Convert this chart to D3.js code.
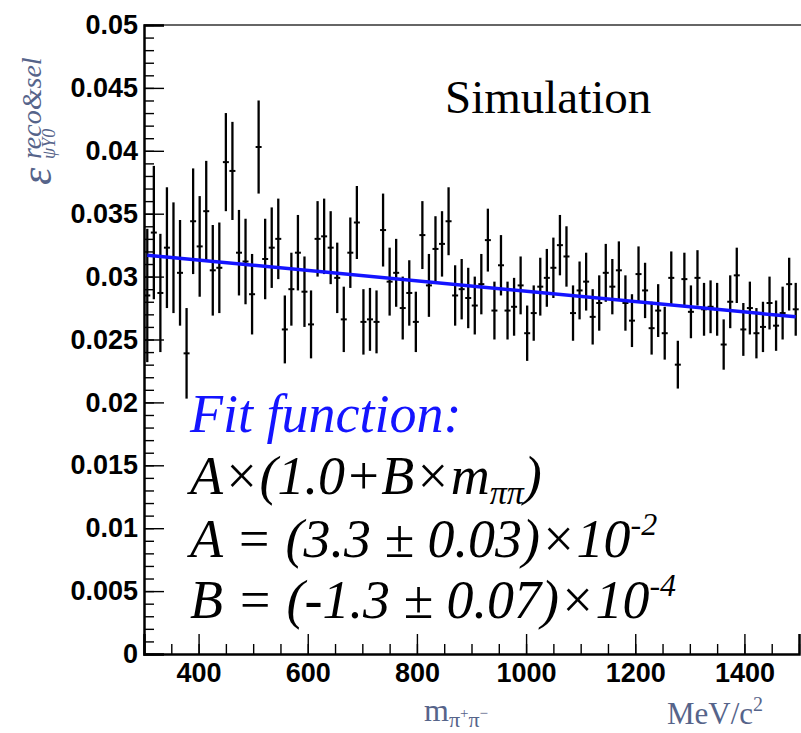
<!DOCTYPE html>
<html>
<head>
<meta charset="utf-8">
<script src="https://cdn.jsdelivr.net/npm/d3@7"></script>
<style>
  body { margin: 0; background: #fff; }
  .tick text { font-family: "Liberation Sans", Arial, sans-serif; font-weight: bold; font-size: 27px; fill: #000; }
</style>
</head>
<body>
<div id="vis"></div>
<script>
// bin centres (MeV/c^2), 12 MeV bins from 300 to 1500
var mass = [
  306, 318, 330, 342, 354, 366, 378, 390, 402, 414,
  426, 438, 450, 462, 474, 486, 498, 510, 522, 534,
  546, 558, 570, 582, 594, 606, 618, 630, 642, 654,
  666, 678, 690, 702, 714, 726, 738, 750, 762, 774,
  786, 798, 810, 822, 834, 846, 858, 870, 882, 894,
  906, 918, 930, 942, 954, 966, 978, 990, 1002, 1014,
  1026, 1038, 1050, 1062, 1074, 1086, 1098, 1110, 1122, 1134,
  1146, 1158, 1170, 1182, 1194, 1206, 1218, 1230, 1242, 1254,
  1266, 1278, 1290, 1302, 1314, 1326, 1338, 1350, 1362, 1374,
  1386, 1398, 1410, 1422, 1434, 1446, 1458, 1470, 1482, 1494
];

// efficiency per bin
var eff = [
  0.0285, 0.0335, 0.0287, 0.0323, 0.0315, 0.0303, 0.0239, 0.0344, 0.0324, 0.0352,
  0.0305, 0.0307, 0.0391, 0.0384, 0.0319, 0.0312, 0.0286, 0.0403, 0.0314, 0.0323,
  0.0330, 0.0258, 0.0290, 0.0319, 0.0288, 0.0262, 0.0330, 0.0332, 0.0323, 0.0299,
  0.0266, 0.0319, 0.0343, 0.0264, 0.0266, 0.0264, 0.0337, 0.0296, 0.0303, 0.0275,
  0.0287, 0.0264, 0.0333, 0.0293, 0.0322, 0.0326, 0.0344, 0.0285, 0.0290, 0.0283,
  0.0277, 0.0294, 0.0329, 0.0273, 0.0309, 0.0273, 0.0276, 0.0293, 0.0255, 0.0271,
  0.0292, 0.0299, 0.0307, 0.0325, 0.0316, 0.0271, 0.0289, 0.0296, 0.0268, 0.0279,
  0.0303, 0.0292, 0.0305, 0.0279, 0.0265, 0.0302, 0.0289, 0.0259, 0.0273, 0.0255,
  0.0299, 0.0230, 0.0298, 0.0272, 0.0299, 0.0274, 0.0276, 0.0274, 0.0246, 0.0280,
  0.0301, 0.0258, 0.0275, 0.0255, 0.0260, 0.0279, 0.0261, 0.0271, 0.0294, 0.0274
];

// statistical error per bin
var effErr = [
  0.0053, 0.0053, 0.0047, 0.0048, 0.0044, 0.0042, 0.0036, 0.0042, 0.0040, 0.0040,
  0.0036, 0.0036, 0.0039, 0.0039, 0.0034, 0.0034, 0.0032, 0.0037, 0.0032, 0.0032,
  0.0032, 0.0027, 0.0029, 0.0030, 0.0028, 0.0027, 0.0030, 0.0030, 0.0029, 0.0028,
  0.0026, 0.0028, 0.0029, 0.0026, 0.0025, 0.0025, 0.0029, 0.0027, 0.0027, 0.0025,
  0.0026, 0.0024, 0.0027, 0.0025, 0.0026, 0.0026, 0.0027, 0.0024, 0.0024, 0.0024,
  0.0023, 0.0024, 0.0025, 0.0023, 0.0024, 0.0023, 0.0023, 0.0023, 0.0022, 0.0022,
  0.0023, 0.0023, 0.0024, 0.0024, 0.0024, 0.0022, 0.0023, 0.0023, 0.0022, 0.0022,
  0.0023, 0.0022, 0.0023, 0.0022, 0.0021, 0.0022, 0.0022, 0.0021, 0.0021, 0.0021,
  0.0021, 0.0019, 0.0021, 0.0021, 0.0022, 0.0021, 0.0021, 0.0021, 0.0020, 0.0021,
  0.0022, 0.0021, 0.0021, 0.0020, 0.0020, 0.0021, 0.0020, 0.0021, 0.0021, 0.0021
];

// fitted line end points
var fitMass = [306, 1494];
var fitEff = [0.0317, 0.0268];

var xTicks = [400, 600, 800, 1000, 1200, 1400];
var yTicks = [0, 0.005, 0.01, 0.015, 0.02, 0.025, 0.03, 0.035, 0.04, 0.045, 0.05];

var width = 801;
var height = 733;
var frame = { left: 144, right: 799, top: 25, bottom: 654 };

var svg = d3.select('#vis').append('svg')
  .attr('width', width)
  .attr('height', height)
  .style('display', 'block');

svg.append('rect').attr('width', width).attr('height', height).attr('fill', '#fff');

var x = d3.scaleLinear().domain([300, 1500]).range([frame.left, frame.right]);
var y = d3.scaleLinear().domain([0, 0.05]).range([frame.bottom, frame.top]);

// top frame line
svg.append('line')
  .attr('x1', frame.left).attr('x2', width)
  .attr('y1', frame.top).attr('y2', frame.top)
  .attr('stroke', '#333').attr('stroke-width', 1.3);

// minor ticks
svg.append('g')
  .attr('transform', 'translate(' + frame.left + ',0)')
  .call(d3.axisLeft(y).tickValues(d3.range(0, 0.0505, 0.001)).tickSize(-10).tickFormat(''))
  .call(function (g) { g.select('.domain').remove(); })
  .selectAll('line').attr('stroke', '#000').attr('stroke-width', 1.4);

svg.append('g')
  .attr('transform', 'translate(0,' + frame.bottom + ')')
  .call(d3.axisBottom(x).tickValues(d3.range(300, 1501, 50)).tickSize(-10).tickFormat(''))
  .call(function (g) { g.select('.domain').remove(); })
  .selectAll('line').attr('stroke', '#000').attr('stroke-width', 1.4);

// major axes
var yAxis = svg.append('g')
  .attr('transform', 'translate(' + frame.left + ',0)')
  .call(d3.axisLeft(y).tickValues(yTicks).tickSize(-20).tickPadding(6)
    .tickFormat(function (d) { return String(+d.toFixed(3)); }));
yAxis.select('.domain').attr('stroke', '#000').attr('stroke-width', 2.5);
yAxis.selectAll('line').attr('stroke', '#000').attr('stroke-width', 1.4);

var xAxis = svg.append('g')
  .attr('transform', 'translate(0,' + frame.bottom + ')')
  .call(d3.axisBottom(x).tickValues(xTicks).tickSize(-20).tickPadding(9).tickFormat(d3.format('d')));
xAxis.select('.domain').attr('stroke', '#000').attr('stroke-width', 2.5);
xAxis.selectAll('line').attr('stroke', '#000').attr('stroke-width', 1.4);

// error bars
var pts = svg.append('g').selectAll('g').data(mass).enter().append('g');
pts.append('line')
  .attr('x1', function (d) { return x(d); })
  .attr('x2', function (d) { return x(d); })
  .attr('y1', function (d, i) { return y(eff[i] - effErr[i]); })
  .attr('y2', function (d, i) { return y(eff[i] + effErr[i]); })
  .attr('stroke', '#000').attr('stroke-width', 2.3);
pts.append('line')
  .attr('x1', function (d) { return x(d) - 3; })
  .attr('x2', function (d) { return x(d) + 3; })
  .attr('y1', function (d, i) { return y(eff[i]); })
  .attr('y2', function (d, i) { return y(eff[i]); })
  .attr('stroke', '#000').attr('stroke-width', 2);

// fit
svg.append('path')
  .datum(fitMass)
  .attr('fill', 'none')
  .attr('stroke', '#1414ff')
  .attr('stroke-width', 3.5)
  .attr('d', d3.line()
    .x(function (d) { return x(d); })
    .y(function (d, i) { return y(fitEff[i]); }));

// labels
var serif = '"Liberation Serif", "Times New Roman", serif';

svg.append('text')
  .attr('x', 445).attr('y', 113)
  .style('font-family', serif).style('font-size', '47px')
  .text('Simulation');

var fit = svg.append('g')
  .style('font-family', serif).style('font-style', 'italic').style('font-size', '54px');

fit.append('text').attr('x', 190).attr('y', 432).attr('fill', '#1414ff').text('Fit function:');

var l2 = fit.append('text').attr('x', 190).attr('y', 494);
l2.append('tspan').text('A×(1.0+B×m');
l2.append('tspan').attr('dy', 10).style('font-size', '34px').text('ππ');
l2.append('tspan').attr('dy', -10).text(')');

var l3 = fit.append('text').attr('x', 190).attr('y', 557);
l3.append('tspan').text('A = (3.3 ± 0.03)×10');
l3.append('tspan').attr('dy', -22).style('font-size', '32px').text('-2');

var l4 = fit.append('text').attr('x', 190).attr('y', 618);
l4.append('tspan').text('B = (-1.3 ± 0.07)×10');
l4.append('tspan').attr('dy', -22).style('font-size', '32px').text('-4');

// axis titles
var titleColor = '#56648a';
var yt = svg.append('g')
  .attr('transform', 'translate(51,185) rotate(-90)')
  .style('font-family', serif).style('font-style', 'italic').attr('fill', titleColor);
yt.append('text').attr('x', 0).attr('y', 0).style('font-size', '44px').text('ε');
yt.append('text').attr('x', 26).attr('y', -10).style('font-size', '28px').text('reco&sel');
yt.append('text').attr('x', 26).attr('y', 4).style('font-size', '18px').text('ψY0');

var xt = svg.append('text')
  .attr('x', 424).attr('y', 721)
  .style('font-family', serif).style('font-size', '32px').attr('fill', titleColor);
xt.append('tspan').text('m');
xt.append('tspan').attr('dy', 6).style('font-size', '22px').text('π');
xt.append('tspan').attr('dy', -9).style('font-size', '15px').text('+');
xt.append('tspan').attr('dy', 9).style('font-size', '22px').text('π');
xt.append('tspan').attr('dy', -9).style('font-size', '15px').text('−');

var ut = svg.append('text')
  .attr('x', 667).attr('y', 724)
  .style('font-family', serif).style('font-size', '31px').attr('fill', titleColor);
ut.append('tspan').text('MeV/c');
ut.append('tspan').attr('dy', -13).style('font-size', '20px').text('2');
</script>
</body>
</html>
